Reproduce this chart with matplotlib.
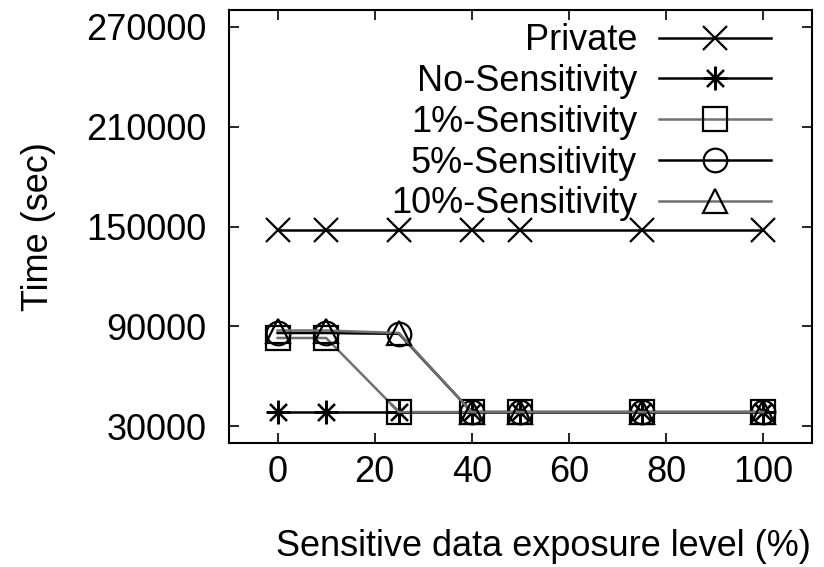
import matplotlib
matplotlib.use("Agg")
import matplotlib.pyplot as plt

plt.rcParams["font.family"] = ["Liberation Sans", "DejaVu Sans"]

# ---- data ----
exposure = [0, 10, 25, 40, 50, 75, 100]
private = [148000, 148000, 148000, 148000, 148000, 148000, 148000]
no_sens = [38500, 38500, 38500, 38500, 38500, 38500, 38500]
sens_1 = [83000, 83000, 38500, 38500, 38500, 38500, 38500]
sens_5 = [86000, 86000, 85500, 38500, 38500, 38500, 38500]
sens_10 = [87500, 87500, 86000, 38500, 38500, 38500, 38500]

series = [
    ("Private", private, "x", "black"),
    ("No-Sensitivity", no_sens, (8, 2, 0), "black"),
    ("1%-Sensitivity", sens_1, "s", "#707070"),
    ("5%-Sensitivity", sens_5, "o", "black"),
    ("10%-Sensitivity", sens_10, "^", "#707070"),
]

fig = plt.figure(figsize=(8.24, 5.67), dpi=100)
ax = fig.add_axes([0.278, 0.219, 0.707, 0.763])

for label, vals, marker, color in series:
    ax.plot(exposure, vals, label=label, color=color, marker=marker,
            markersize=17, markerfacecolor="none", markeredgecolor="black",
            markeredgewidth=1.6, linewidth=1.8)

ax.set_xlim(-10, 110)
ax.set_ylim(20000, 280000)
ax.set_xticks([0, 20, 40, 60, 80, 100])
ax.set_yticks([30000, 90000, 150000, 210000, 270000])
ax.tick_params(direction="in", top=True, right=True, length=7, width=1.2,
               labelsize=26)
ax.tick_params(axis="y", pad=16)
ax.tick_params(axis="x", pad=9)
for sp in ax.spines.values():
    sp.set_linewidth(1.5)

ax.set_xlabel("Sensitive data exposure level (%)", fontsize=26, labelpad=28)
ax.xaxis.label.set_x(0.54)
ax.set_ylabel("Time (sec)", fontsize=26, labelpad=22)

ax.legend(loc="upper right", frameon=False, markerfirst=False, fontsize=26,
          handlelength=3.1, handletextpad=0.6, labelspacing=0.16,
          borderaxespad=0.0, borderpad=0.0, bbox_to_anchor=(0.93, 0.97))

fig.savefig("out.png", dpi=100)
